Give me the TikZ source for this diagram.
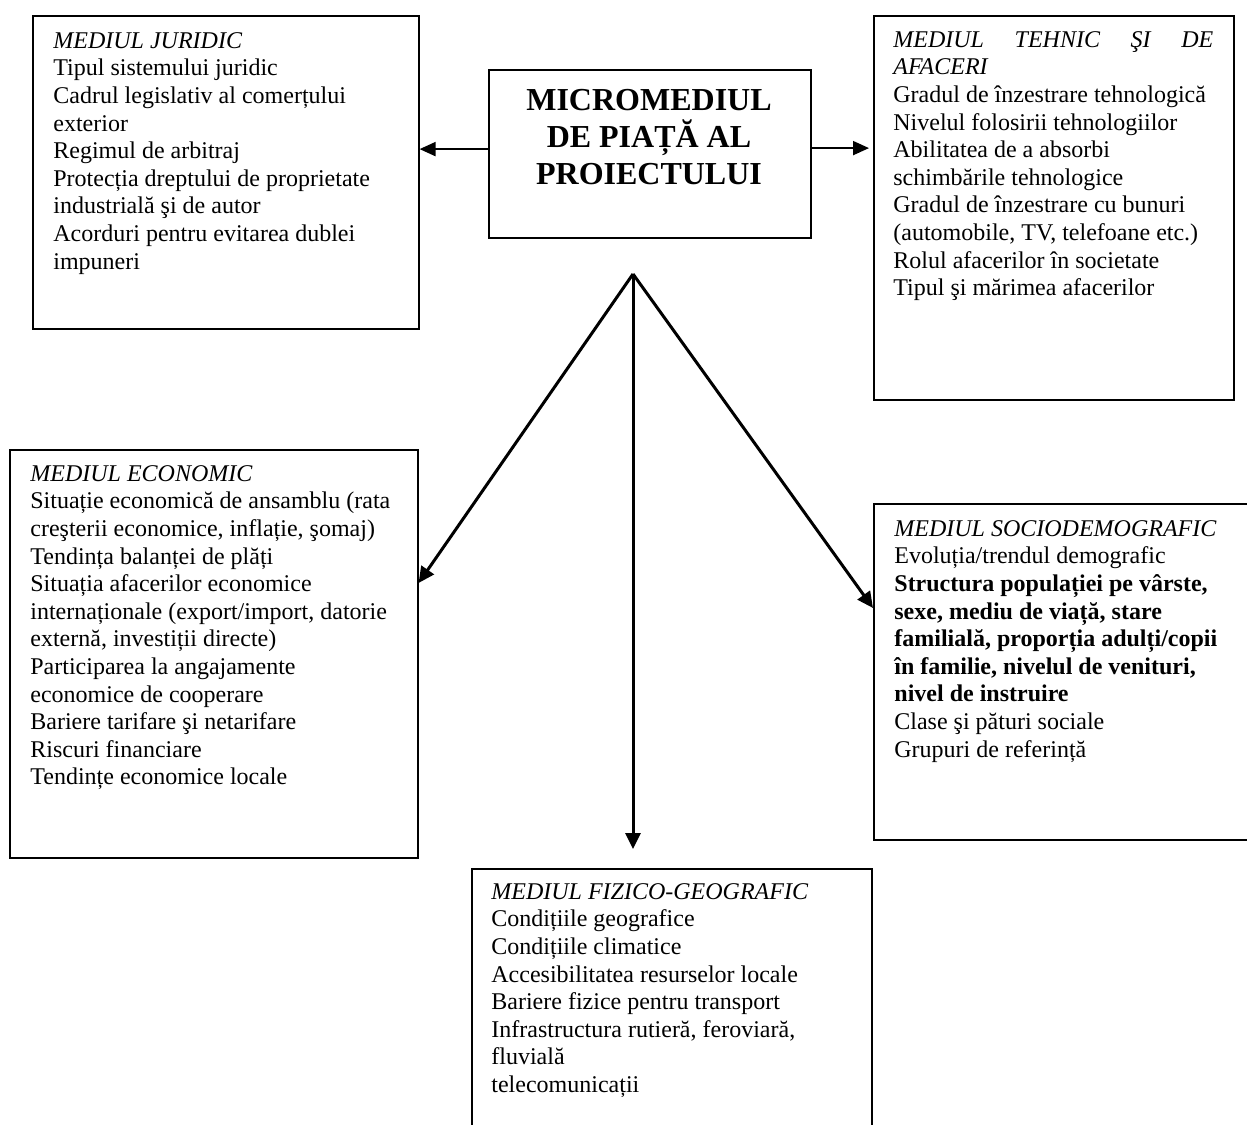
\documentclass[tikz,border=0pt]{standalone}
\usepackage{fontspec}
\setmainfont{Liberation Serif}
\usetikzlibrary{arrows.meta,calc}
\begin{document}
\begin{tikzpicture}[x=0.5pt,y=-0.5pt,
  panel/.style={draw, line width=0.8pt, anchor=north west, inner sep=0pt},
  txt/.style={anchor=north west, inner sep=0pt, align=left,
    font=\fontsize{12pt}{13.8pt}\selectfont},
  head/.style={font=\fontsize{16pt}{18.5pt}\selectfont\bfseries,
    anchor=north, inner sep=0pt, align=center},
  flow/.style={line width=1.5pt, -{Triangle[length=8pt,width=7.5pt]}},
  side/.style={line width=1pt, -{Triangle[length=8pt,width=7pt]}}]

% page frame
\clip (0,0) rectangle (1247,1124);

% boxes
\node[panel, minimum width=193pt, minimum height=156.5pt] (jur) at (32,15) {};
\node[panel, line width=1.1pt, minimum width=161pt, minimum height=84pt] (micro) at (488,69) {};
\node[panel, minimum width=180pt, minimum height=192pt] (teh) at (873,15) {};
\node[panel, minimum width=204pt, minimum height=204pt] (eco) at (9,449) {};
\node[panel, minimum width=194pt, minimum height=168pt] (soc) at (873,503) {};
\node[panel, minimum width=200pt, minimum height=140pt] (fiz) at (471,868) {};

% central title
\node[head] (microtxt) at (649,89) {MICROMEDIUL\\DE PIAȚĂ AL\\PROIECTULUI};

% box contents
\node[txt] (jurtxt) at (53,32) {\textit{MEDIUL JURIDIC}\\
Tipul sistemului juridic\\
Cadrul legislativ al comerțului\\
exterior\\
Regimul de arbitraj\\
Protecția dreptului de proprietate\\
industrială şi de autor\\
Acorduri pentru evitarea dublei\\
impuneri};

\node[txt] (tehtxt) at (893,31) {\makebox[160pt][s]{\itshape MEDIUL TEHNIC ŞI DE}\\
\textit{AFACERI}\\
Gradul de înzestrare tehnologică\\
Nivelul folosirii tehnologiilor\\
Abilitatea de a absorbi\\
schimbările tehnologice\\
Gradul de înzestrare cu bunuri\\
(automobile, TV, telefoane etc.)\\
Rolul afacerilor în societate\\
Tipul şi mărimea afacerilor};

\node[txt] (ecotxt) at (30,465) {\textit{MEDIUL ECONOMIC}\\
Situație economică de ansamblu (rata\\
creşterii economice, inflație, şomaj)\\
Tendința balanței de plăți\\
Situația afacerilor economice\\
internaționale (export/import, datorie\\
externă, investiții directe)\\
Participarea la angajamente\\
economice de cooperare\\
Bariere tarifare şi netarifare\\
Riscuri financiare\\
Tendințe economice locale};

\node[txt] (soctxt) at (894,520) {\textit{MEDIUL SOCIODEMOGRAFIC}\\
Evoluția/trendul demografic\\
\textbf{Structura populației pe vârste,}\\
\textbf{sexe, mediu de viață, stare}\\
\textbf{familială, proporția adulți/copii}\\
\textbf{în familie, nivelul de venituri,}\\
\textbf{nivel de instruire}\\
Clase şi pături sociale\\
Grupuri de referință};

\node[txt] (fiztxt) at (491,883) {\textit{MEDIUL FIZICO-GEOGRAFIC}\\
Condițiile geografice\\
Condițiile climatice\\
Accesibilitatea resurselor locale\\
Bariere fizice pentru transport\\
Infrastructura rutieră, feroviară,\\
fluvială\\
telecomunicații};

% connectors
\coordinate (apex) at (633,274);
\draw[side] ([yshift=2.5pt]micro.west) -- ([yshift=2.5pt]micro.west -| jur.east);
\draw[side, shorten >=2pt] ([yshift=3pt]micro.east) -- ([yshift=3pt]micro.east -| teh.west);
\draw[flow] (apex) -- ([yshift=-67pt]eco.north east);
\draw[flow] (apex) -- ([yshift=-52.5pt]soc.north west);
\draw[flow, shorten >=9.5pt] (apex) -- (apex |- fiz.north);
\end{tikzpicture}
\end{document}
